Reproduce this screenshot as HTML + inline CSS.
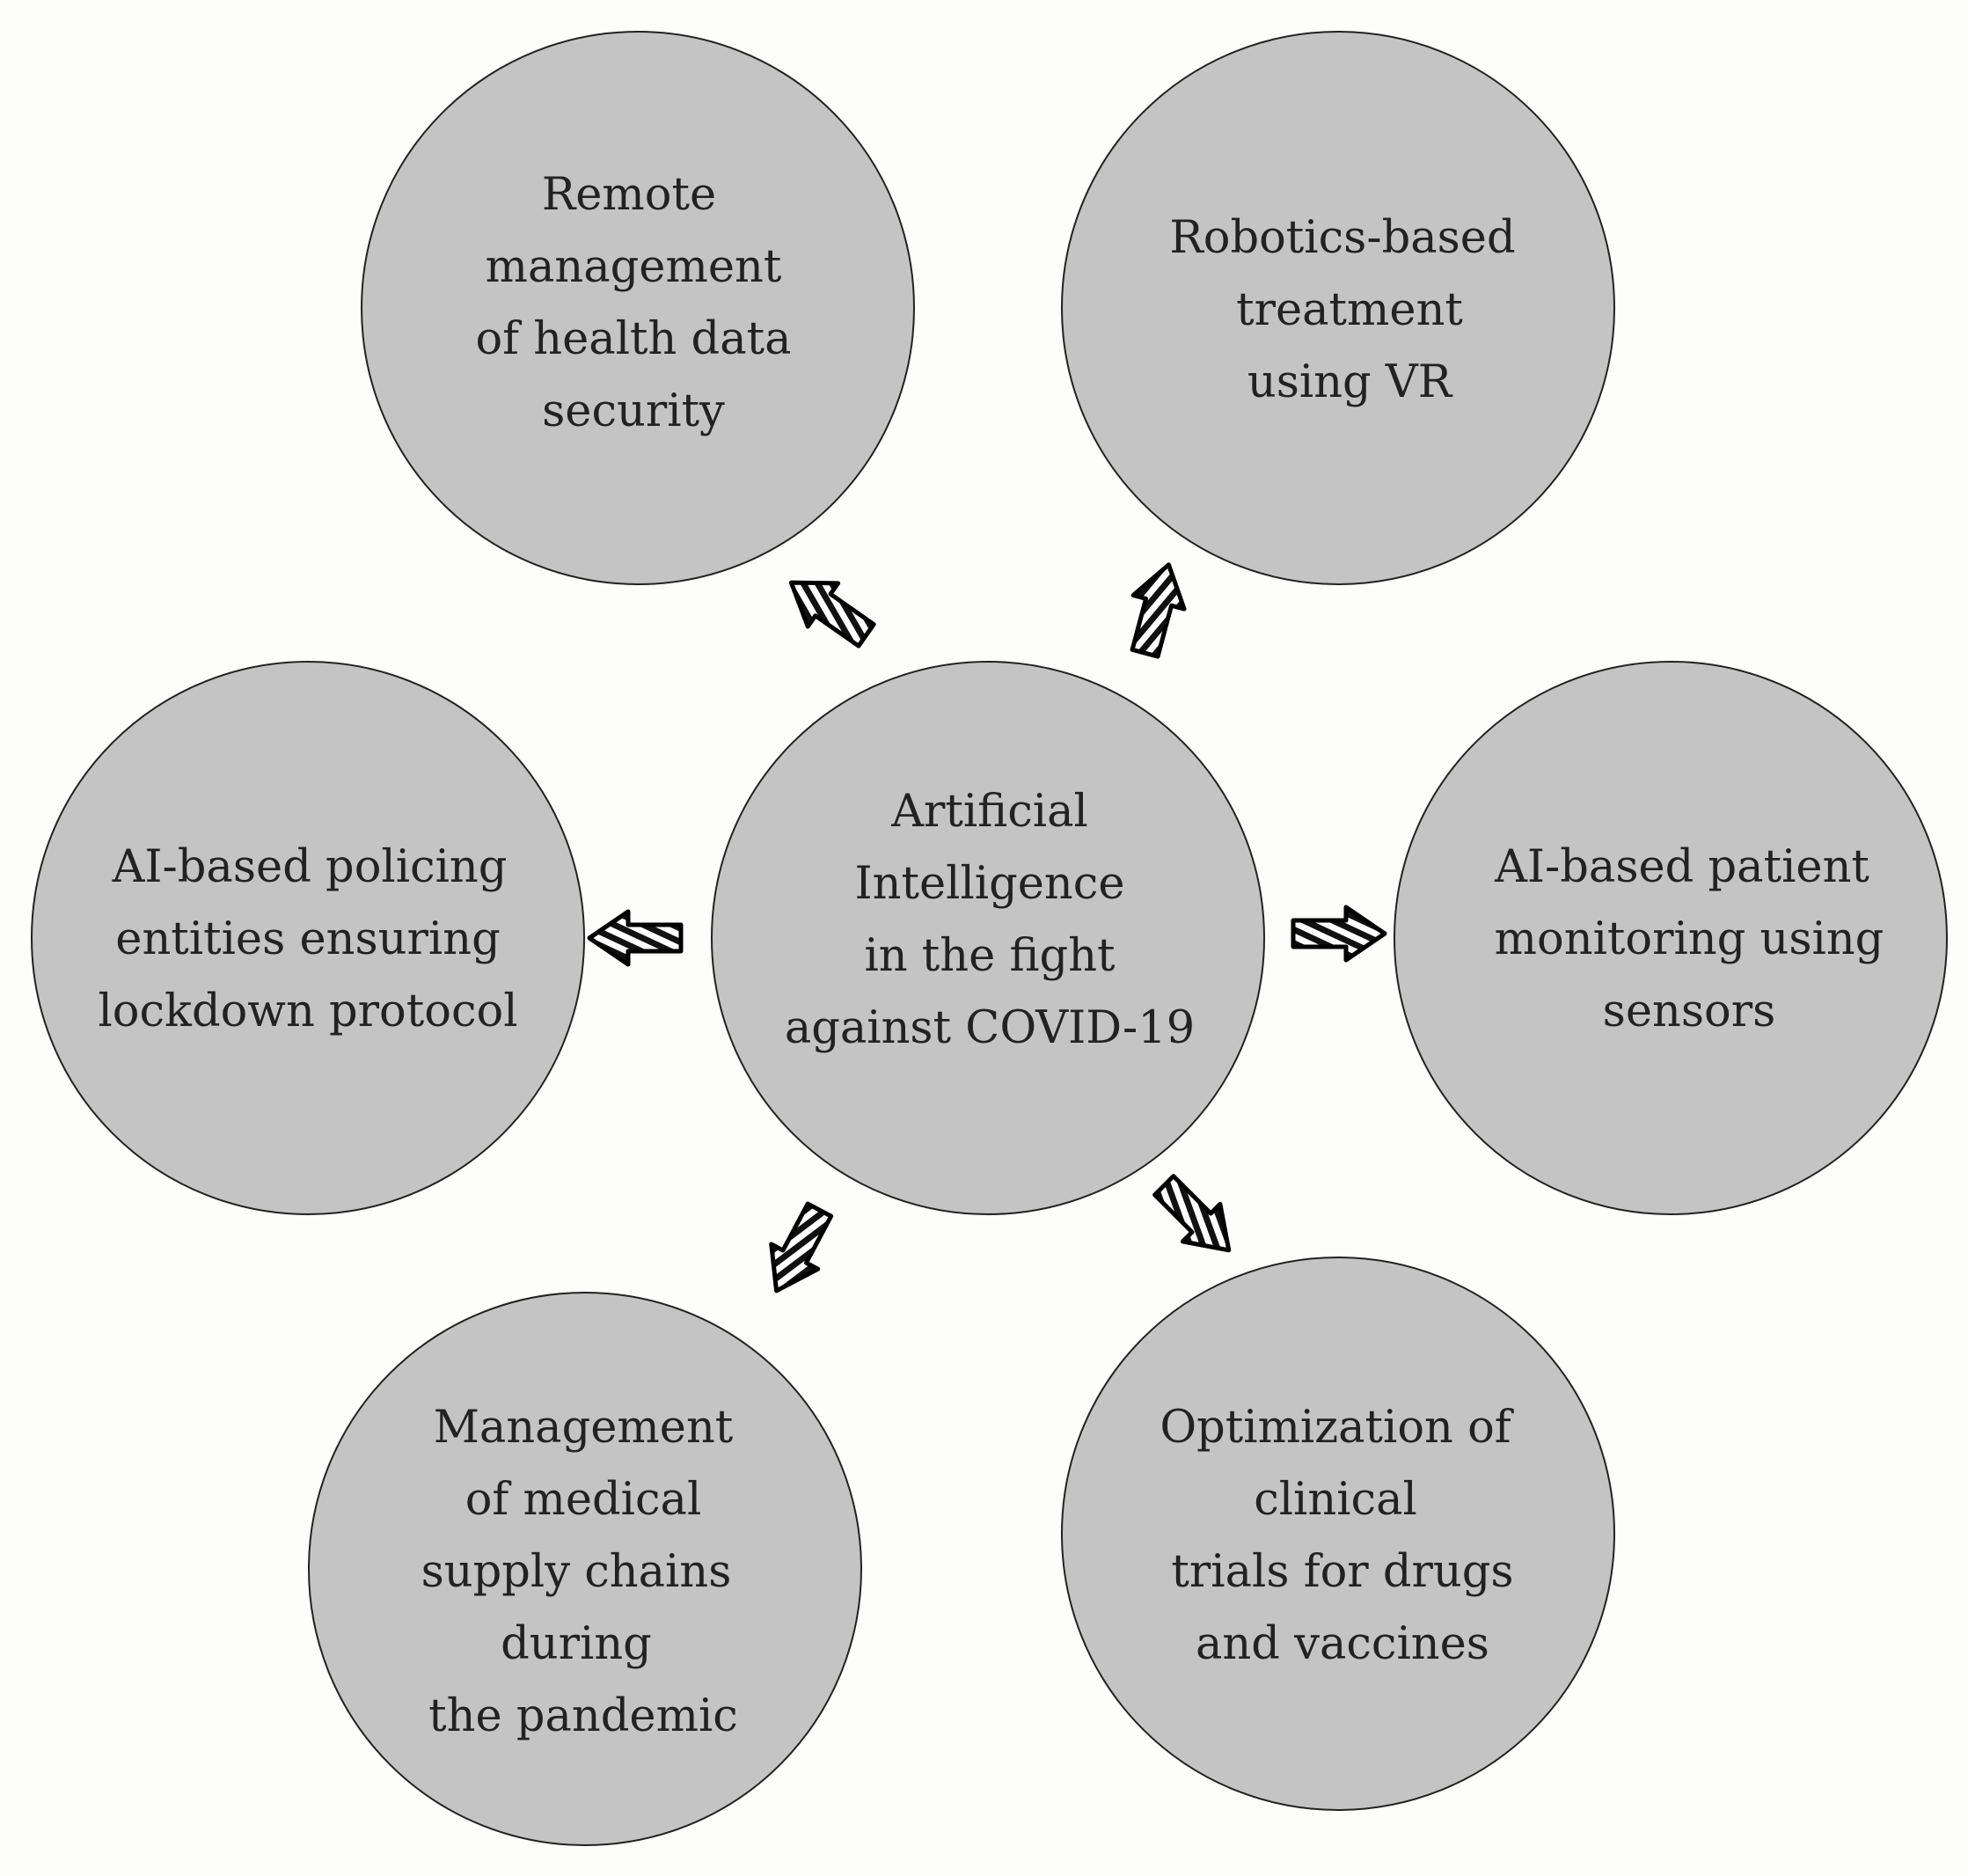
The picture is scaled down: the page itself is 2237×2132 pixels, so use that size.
<!DOCTYPE html>
<html><head><meta charset="utf-8"><style>
html,body{margin:0;padding:0;background:#fdfdfb;}
svg{display:block}
text{font-family:"DejaVu Serif","Liberation Serif",serif;font-size:51px;fill:#222;text-anchor:middle}
</style></head><body>
<svg width="2237" height="2132" viewBox="0 0 2237 2132" xmlns="http://www.w3.org/2000/svg">
<defs>
<pattern id="h" width="14" height="14" patternUnits="userSpaceOnUse" patternTransform="rotate(25)">
<rect width="14" height="14" fill="#fff"/><rect width="14" height="7" fill="#111"/>
</pattern>
<g id="arr">
<polygon points="-52,-15 8,-15 8,-30 52,0 8,30 8,15 -52,15" fill="url(#h)" stroke="#000" stroke-width="5" stroke-linejoin="round"/>
</g>
</defs>
<rect width="2237" height="2132" fill="#fdfdfb"/>
<g fill="#c4c4c4" stroke="#222" stroke-width="2">
<circle cx="1123" cy="1066" r="314"/>
<circle cx="725" cy="350" r="314"/>
<circle cx="1521" cy="350" r="314"/>
<circle cx="350" cy="1066" r="314"/>
<circle cx="1899" cy="1066" r="314"/>
<circle cx="665" cy="1783" r="314"/>
<circle cx="1521" cy="1743" r="314"/>
</g>
<use href="#arr" transform="translate(942,692) rotate(-145)"/>
<use href="#arr" transform="translate(1315,692) rotate(-75)"/>
<use href="#arr" transform="translate(722,1066) rotate(180)"/>
<use href="#arr" transform="translate(1522,1061)"/>
<use href="#arr" transform="translate(907,1421) rotate(118)"/>
<use href="#arr" transform="translate(1360,1384) rotate(45)"/>
<text x="1125"><tspan x="1125" y="939">Artificial</tspan><tspan x="1125" y="1021">Intelligence</tspan><tspan x="1125" y="1103">in the fight</tspan><tspan x="1125" y="1185">against COVID-19</tspan></text>
<text><tspan x="715" y="238">Remote</tspan><tspan x="720" y="320">management</tspan><tspan x="720" y="402">of health data</tspan><tspan x="720" y="484">security</tspan></text>
<text><tspan x="1526" y="287">Robotics-based</tspan><tspan x="1534" y="369">treatment</tspan><tspan x="1534" y="451">using VR</tspan></text>
<text><tspan x="352" y="1002">AI-based policing</tspan><tspan x="350" y="1084">entities ensuring</tspan><tspan x="350" y="1166">lockdown protocol</tspan></text>
<text><tspan x="1912" y="1002">AI-based patient</tspan><tspan x="1920" y="1084">monitoring using</tspan><tspan x="1920" y="1166">sensors</tspan></text>
<text><tspan x="663" y="1639">Management</tspan><tspan x="663" y="1721">of medical</tspan><tspan x="655" y="1803">supply chains</tspan><tspan x="655" y="1885">during</tspan><tspan x="663" y="1967">the pandemic</tspan></text>
<text><tspan x="1518" y="1639">Optimization of</tspan><tspan x="1518" y="1721">clinical</tspan><tspan x="1526" y="1803">trials for drugs</tspan><tspan x="1526" y="1885">and vaccines</tspan></text>
</svg>
</body></html>
